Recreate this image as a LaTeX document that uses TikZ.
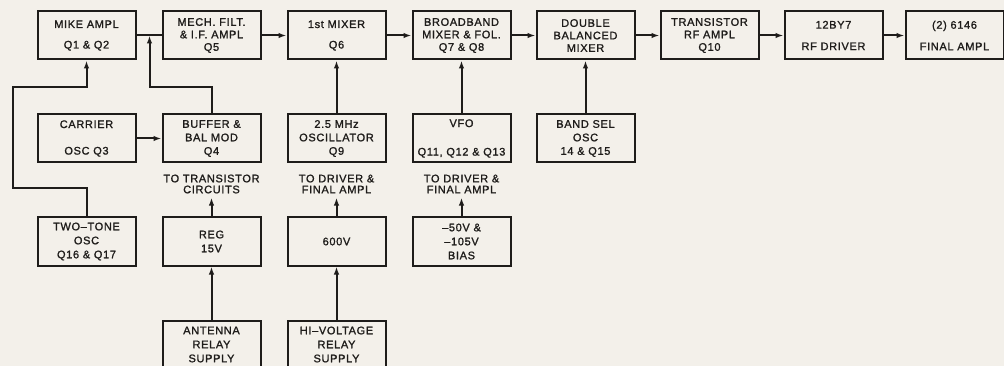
\documentclass[tikz,border=0pt]{standalone}
\usepackage{fontspec}
\setmainfont{Liberation Sans}
\newfontfamily\lroy[LetterSpace=6,FakeBold=1.3]{Liberation Sans}
\usetikzlibrary{arrows.meta}
\definecolor{paper}{HTML}{F3F0EA}
\definecolor{ink}{HTML}{1E1C1A}
\tikzset{
  blk/.style={draw=ink, line width=2pt, minimum width=98pt, minimum height=48pt, align=center, inner sep=0pt},
  arr/.style={draw=ink, line width=2pt, -{Latex[length=8pt,width=5.5pt]}},
  lnk/.style={draw=ink, line width=2pt},
  note/.style={align=center, inner sep=4pt, font=\lroy\fontsize{11}{11}\selectfont}
}
\begin{document}
\begin{tikzpicture}[x=1pt,y=-1pt,font=\lroy\fontsize{11}{12.5}\selectfont,text=ink]
        \useasboundingbox (0,0) rectangle (1004,366);
        \clip (0,0) rectangle (1004,366);
        \fill[paper] (0,0) rectangle (1004,366);
        \node[blk] (mike) at (86.5,35.5) {MIKE AMPL\\[8pt]Q1 \& Q2};
        \node[blk] (mech) at (211.5,35.5) {MECH. FILT.\\\& I.F. AMPL\\Q5};
        \node[blk] (mix) at (336.5,35.5) {1st MIXER\\[8pt]Q6};
        \node[blk] (bb) at (461.5,35.5) {BROADBAND\\MIXER \& FOL.\\Q7 \& Q8};
        \node[blk] (dbm) at (585.5,35.5) {DOUBLE\\BALANCED\\MIXER};
        \node[blk] (trf) at (709.5,35.5) {TRANSISTOR\\RF AMPL\\Q10};
        \node[blk] (drv) at (833.5,35.5) {12BY7\\[9pt]RF DRIVER};
        \node[blk] (fin) at (954.5,35.5) {(2) 6146\\[9pt]FINAL AMPL};
        \node[blk] (car) at (86.5,138.5) {CARRIER\\[14pt]OSC Q3};
        \node[blk] (buf) at (211.5,138.5) {BUFFER \&\\[1pt]BAL MOD\\[1pt]Q4};
        \node[blk] (osc) at (336.5,138.5) {2.5 MHz\\[1pt]OSCILLATOR\\[1pt]Q9};
        \node[blk] (vfo) at (461.5,138.5) {VFO\\[16pt]Q11, Q12 \& Q13};
        \node[blk] (bsel) at (585.5,138.5) {BAND SEL\\[1pt]OSC\\[1pt]14 \& Q15};
        \node[blk] (tt) at (86.5,241.5) {TWO–TONE\\[1.5pt]OSC\\[1.5pt]Q16 \& Q17};
        \node[blk] (reg) at (211.5,241.5) {REG\\[1.5pt]15V};
        \node[blk] (hv) at (336.5,241.5) {600V};
        \node[blk] (bias) at (461.5,241.5) {–50V \&\\[1.5pt]–105V\\[1.5pt]BIAS};
        \node[blk] (ant) at (211.5,344.5) {ANTENNA\\[1.5pt]RELAY\\[1.5pt]SUPPLY};
        \node[blk] (hirl) at (336.5,344.5) {HI–VOLTAGE\\[1.5pt]RELAY\\[1.5pt]SUPPLY};
        \node[note] (totc) at (211.5,184) {TO TRANSISTOR\\CIRCUITS};
        \node[note] (todf) at (336.5,184) {TO DRIVER \&\\FINAL AMPL};
        \node[note] (todb) at (461.5,184) {TO DRIVER \&\\FINAL AMPL};
        \coordinate (jn) at (149.5,35.5);
        \coordinate (bk) at (149.5,87.5);
        \coordinate (t1) at (12.5,188.5);
        \coordinate (t2) at (12.5,87.5);
        \draw[lnk] (mike) -- (mech);
        \draw[arr] (buf.north) |- (bk) -- (jn);
        \draw[arr] (tt.north) |- (t1) -- (t2) -| (mike.south);
        \draw[arr] (car) -- (buf);
        \foreach \a/\b in {mech/mix,mix/bb,bb/dbm,dbm/trf,trf/drv,drv/fin}
          \draw[arr] (\a) -- (\b);
        \foreach \a/\b in {osc/mix,vfo/bb,bsel/dbm,reg/totc,hv/todf,bias/todb,ant/reg,hirl/hv}
          \draw[arr] (\a) -- (\b);
      \end{tikzpicture}
\end{document}
